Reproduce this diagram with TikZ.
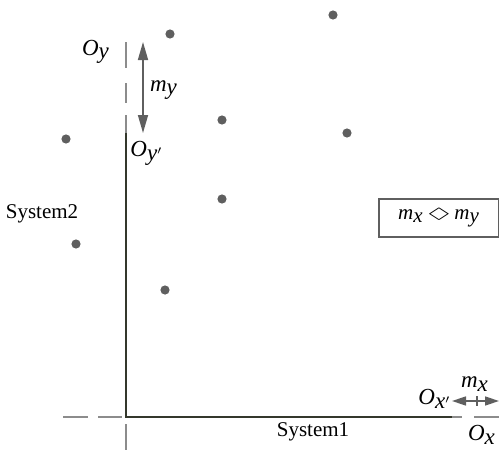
\documentclass[tikz,border=0pt]{standalone}
\usepackage{fontspec}
\usepackage{amssymb}
\usepackage{graphicx}
\setmainfont{Liberation Serif}
\usetikzlibrary{arrows.meta}
\definecolor{axisInk}{RGB}{52,56,44}
\definecolor{dashInk}{RGB}{140,140,140}
\definecolor{dotInk}{RGB}{95,95,95}
\tikzset{framepanel/.style={
  x=0.5pt, y=-0.5pt,
  font=\fontsize{10.5}{12}\selectfont,
  axisline/.style={line width=1.4pt, axisInk},
  guide/.style={line width=0.7pt, dashInk},
  moveline/.style={{Triangle[length=9pt, width=5pt]}-{Triangle[length=9pt, width=5pt]}, line width=0.8pt, dotInk},
  half/.style={-{Triangle[length=7pt, width=4.5pt]}, line width=0.8pt, dotInk},
  pt/.style={circle, fill=dotInk, draw=none, minimum size=4.6pt, inner sep=0pt},
  lab/.style={inner sep=1pt, font=\fontsize{11.5}{13}\selectfont},
}}
\newcommand{\mv}[1]{$\textit{m}_{\textit{#1}}$}

\begin{document}
\begin{tikzpicture}[framepanel]
\useasboundingbox (0,0) rectangle (499,450);

% ---- frame corners ----
\coordinate (org)  at (126,417);
\coordinate (ytop) at (126,133);
\coordinate (xend) at (452,417);

% ---- System1 / System2 axes ----
\draw[axisline] (ytop) -- (org) -- (xend);
\node[inner sep=1pt] (sys1) at (313,432) {System1};
\node[inner sep=1pt] (sys2) at (42,214) {System2};

% ---- old origin guides (dashed pieces) ----
\coordinate (ya1) at (126,42);  \coordinate (ya2) at (126,68);
\coordinate (yb1) at (126,83);  \coordinate (yb2) at (126,103);
\coordinate (yc1) at (126,115); \coordinate (yc2) at (126,133);
\draw[guide] (ya1) -- (ya2);
\draw[guide] (yb1) -- (yb2);
\draw[guide] (yc1) -- (yc2);
\coordinate (yd1) at (126,424); \coordinate (yd2) at (126,450);
\draw[guide] (yd1) -- (yd2);
\coordinate (xa1) at (63,417);  \coordinate (xa2) at (88,417);
\coordinate (xb1) at (98,417);  \coordinate (xb2) at (122,417);
\draw[guide] (xa1) -- (xa2);
\draw[guide] (xb1) -- (xb2);
\coordinate (xc1) at (452,417); \coordinate (xc2) at (462,417);
\coordinate (xd1) at (474,417); \coordinate (xd2) at (499,417);
\draw[guide] (xc1) -- (xc2);
\draw[guide] (xd1) -- (xd2);

% ---- y shift ----
\coordinate (myTop) at (143,42);
\coordinate (myBot) at (143,133);
\draw[moveline] (myTop) -- (myBot);
\node[lab] (my)  at (164,90)  {\mv{y}};
\node[lab] (oy)  at (96,52)   {\textit{O}$_{\textit{y}}$};
\node[lab] (oyp) at (147,153) {\textit{O}$_{\textit{y}'}$};

% ---- x shift ----
\coordinate (mxMid) at (477,401);
\coordinate (mxL)   at (452,401);
\coordinate (mxR)   at (499,401);
\draw[half] (mxMid) -- (mxL);
\draw[half] (mxMid) -- (mxR);
\draw[line width=0.8pt, dotInk] ([yshift=2.5pt]mxMid) -- ([yshift=-2.5pt]mxMid);
\node[lab] (mx)  at (475,384) {\mv{x}};
\node[lab] (oxp) at (435,399) {\textit{O}$_{\textit{x}'}$};
\node[lab] (ox)  at (482,435) {\textit{O}$_{\textit{x}}$};

% ---- scattered points ----
\foreach \px/\py [count=\i] in {170/34, 333/15, 222/120, 347/133, 66/139, 222/199, 76/244, 165/290}
  \node[pt] (p\i) at (\px,\py) {};

% ---- relation box ----
\node[draw=dotInk, line width=0.6pt, minimum width=60pt, minimum height=19pt, inner sep=0pt] (rel) at (439,218)
  {\mv{x}\,\raisebox{0.3pt}{\scalebox{1.7}[0.7]{$\Diamond$}}\,\mv{y}};

\end{tikzpicture}
\end{document}
